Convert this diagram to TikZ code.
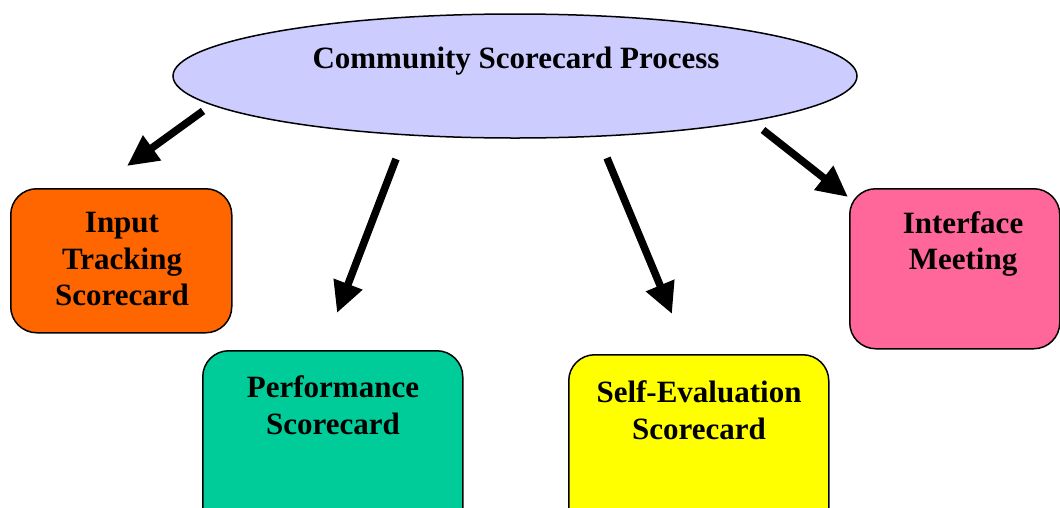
\documentclass[tikz,border=0pt]{standalone}
\usepackage{fontspec}
\setmainfont{Liberation Serif}
\usetikzlibrary{arrows.meta,shapes.geometric}
\definecolor{ellfill}{HTML}{CCCCFF}
\definecolor{orangebox}{HTML}{FF6600}
\definecolor{greenbox}{HTML}{00CC99}
\definecolor{yellowbox}{HTML}{FFFF00}
\definecolor{pinkbox}{HTML}{FF6699}
\tikzset{
  boxstyle/.style={draw=black, line width=1.5pt, rounded corners=26pt, anchor=north west, inner sep=0pt},
  lbl/.style={font=\fontsize{31}{36.5}\selectfont\bfseries, align=center, inner sep=0pt},
  bigarrow/.style={line width=7.5pt, -{Triangle[length=31pt,width=29pt]}}
}
\begin{document}
\begin{tikzpicture}[x=1pt,y=-1pt]
\useasboundingbox (0,0) rectangle (1060,507);
\clip (0,0) rectangle (1060,507);
% ellipse
\node[ellipse, draw=black, line width=1.5pt, fill=ellfill, minimum width=684pt, minimum height=124pt, inner sep=0pt] (proc) at (515,76) {};
\node[lbl] (proctext) at (516,61) {Community Scorecard Process};
% boxes
\node[boxstyle, fill=orangebox, minimum width=221pt, minimum height=144pt] (inputbox) at (10,188) {};
\node[lbl] (inputtext) at (122,259) {Input\\Tracking\\Scorecard};

\node[boxstyle, fill=greenbox, minimum width=260pt, minimum height=210pt] (perfbox) at (202,350) {};
\node[lbl] (perftext) at (333,405) {Performance\\Scorecard};

\node[boxstyle, fill=yellowbox, minimum width=260pt, minimum height=206pt] (selfbox) at (568,354) {};
\node[lbl] (selftext) at (699,410) {Self-Evaluation\\Scorecard};

\node[boxstyle, fill=pinkbox, minimum width=210pt, minimum height=160pt] (intbox) at (849,188) {};
\node[lbl] (inttext) at (963,244) {Interface\\Meeting};

% arrow end points
\coordinate (a1s) at (203,111);
\coordinate (a1e) at (127,166);
\coordinate (a2s) at (396,159);
\coordinate (a2e) at (337,313);
\coordinate (a3s) at (607,158);
\coordinate (a3e) at (672,314);
\coordinate (a4s) at (763,130);
\coordinate (a4e) at (848,197);
\draw[bigarrow] (a1s) -- (a1e);
\draw[bigarrow] (a2s) -- (a2e);
\draw[bigarrow] (a3s) -- (a3e);
\draw[bigarrow] (a4s) -- (a4e);
\end{tikzpicture}
\end{document}
